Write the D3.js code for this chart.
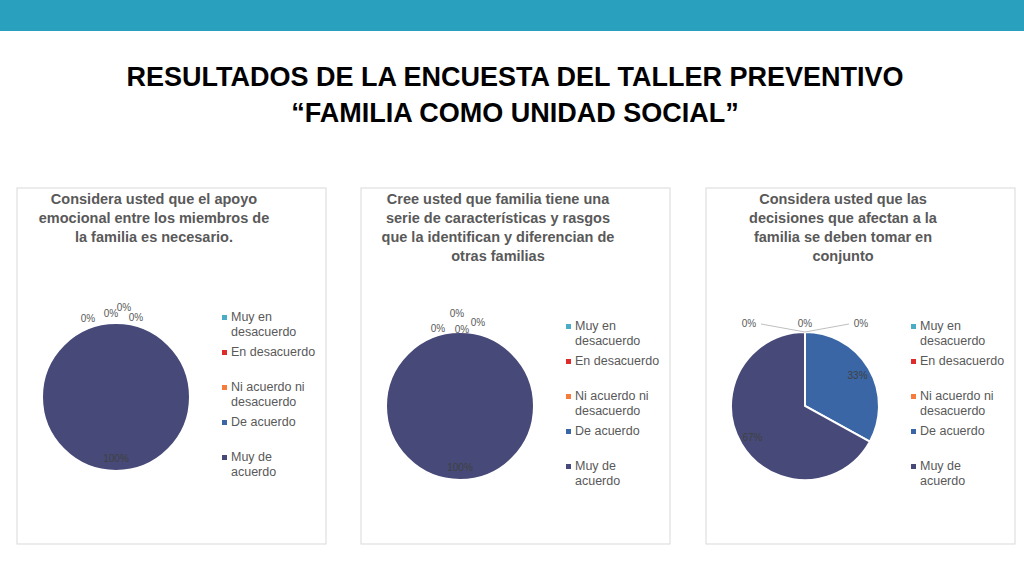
<!DOCTYPE html>
<html><head><meta charset="utf-8">
<script src="https://cdn.jsdelivr.net/npm/d3@7"></script>
<style>
body{margin:0;background:#fff;font-family:"Liberation Sans",Arial,sans-serif}
</style></head><body>
<svg id="c" width="1024" height="576"></svg>
<script>
var categories = ['Muy en desacuerdo', 'En desacuerdo', 'Ni acuerdo ni desacuerdo', 'De acuerdo', 'Muy de acuerdo'];
var legendLines = [['Muy en', 'desacuerdo'], ['En desacuerdo'], ['Ni acuerdo ni', 'desacuerdo'], ['De acuerdo'], ['Muy de', 'acuerdo']];
var colors = ['#4bacc6', '#e02b2b', '#f77b3a', '#3a66a6', '#474a78'];
var chart1 = [0, 0, 0, 0, 100];
var chart2 = [0, 0, 0, 0, 100];
var chart3 = [0, 0, 0, 33, 67];
var titles = [
    ['Considera usted que el apoyo', 'emocional entre los miembros de', 'la familia es necesario.'],
    ['Cree usted que familia tiene una', 'serie de características y rasgos', 'que la identifican y diferencian de', 'otras familias'],
    ['Considera usted que las', 'decisiones que afectan a la', 'familia se deben tomar en', 'conjunto']
];

var svg = d3.select('#c');
svg.append('rect').attr('width', 1024).attr('height', 31).attr('fill', '#2aa0bf');
svg.append('text').attr('x', 515).attr('y', 86).attr('text-anchor', 'middle')
    .style('font-size', '27px').style('font-weight', 'bold').style('font-family', 'Liberation Sans Narrow, Liberation Sans, Arial')
    .text('RESULTADOS DE LA ENCUESTA DEL TALLER PREVENTIVO');
svg.append('text').attr('x', 515).attr('y', 122).attr('text-anchor', 'middle')
    .style('font-size', '27px').style('font-weight', 'bold').style('font-family', 'Liberation Sans Narrow, Liberation Sans, Arial')
    .text('\u201cFAMILIA COMO UNIDAD SOCIAL\u201d');

// zero label nudges (like Excel's collision avoidance)
var zeroOffsets = [
    [[-28, -1], [-5, -6], [8, -12], [20, -2]],
    [[-22, 0], [2, 1], [-3, -15], [18, -6]],
    [[-56, -5], [0, -5], [56, -5]]
];

function pieChart(x0, values, title, idx) {
    var g = svg.append('g').attr('transform', 'translate(' + x0 + ',188)');
    g.append('rect').attr('width', 309).attr('height', 356).attr('fill', '#fff').attr('stroke', '#d9d9d9');
    g.selectAll('text.t').data(title).enter().append('text')
        .attr('x', 137).attr('y', function(d, i) { return 16 + i * 19; })
        .attr('text-anchor', 'middle').style('font-size', '14.5px').style('font-weight', 'bold').attr('fill', '#595959')
        .text(function(d) { return d; });
    var cy = title.length > 3 ? 218 : 209, cx = 99, r = 74;
    var pie = d3.pie().sort(null)(values);
    var arc = d3.arc().innerRadius(0).outerRadius(r);
    var pg = g.append('g').attr('transform', 'translate(' + cx + ',' + cy + ')');
    pg.selectAll('path').data(pie).enter().append('path')
        .attr('d', arc).attr('fill', function(d, i) { return colors[i]; })
        .attr('stroke', '#fff').attr('stroke-width', 2);
    var zi = 0;
    pie.forEach(function(d, i) {
        var txt = Math.round(d.data) + '%';
        if (d.data > 0) {
            var c = d3.arc().innerRadius(r * 0.55).outerRadius(r * 1.1).centroid(d);
            pg.append('text').attr('x', c[0]).attr('y', c[1] + 4).attr('text-anchor', 'middle')
                .style('font-size', '10px').attr('fill', '#404040').text(txt);
        } else {
            var off = zeroOffsets[idx][zi++] || [0, -10];
            pg.append('text').attr('x', off[0]).attr('y', -r + off[1]).attr('text-anchor', 'middle')
                .style('font-size', '10px').attr('fill', '#595959').text(txt);
            if (idx === 2 && off[0] !== 0)
                pg.append('line').attr('x1', off[0] + (off[0] < 0 ? 12 : -12)).attr('y1', -r - 8)
                    .attr('x2', 0).attr('y2', -r).attr('stroke', '#bfbfbf');
        }
    });
    var lg = g.append('g').attr('transform', 'translate(205,' + (cy - 76) + ')');
    var yy = 0;
    legendLines.forEach(function(lines, i) {
        lg.append('rect').attr('x', 0).attr('y', yy - 6).attr('width', 5).attr('height', 5).attr('fill', colors[i]);
        lines.forEach(function(l, j) {
            lg.append('text').attr('x', 9).attr('y', yy + j * 15).style('font-size', '12.5px')
                .attr('fill', '#595959').text(l);
        });
        yy += lines.length * 15 + (lines.length > 1 ? 5 : 20);
    });
}
pieChart(17, chart1, titles[0], 0);
pieChart(361, chart2, titles[1], 1);
pieChart(706, chart3, titles[2], 2);
</script></body></html>
